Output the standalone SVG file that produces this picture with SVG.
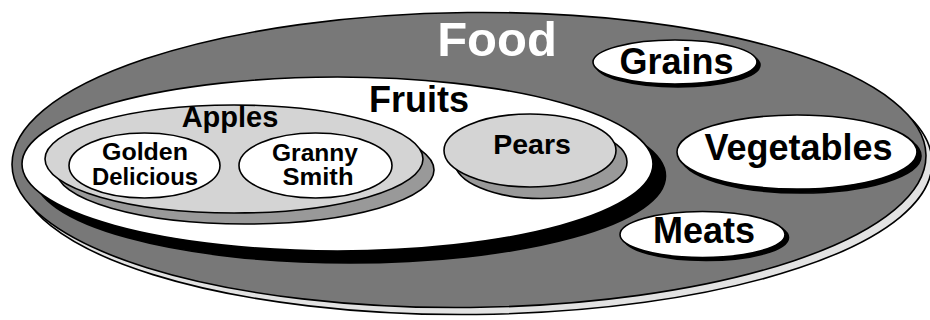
<svg xmlns="http://www.w3.org/2000/svg" width="930" height="320" viewBox="0 0 930 320">
<style>
  .outline { stroke: #000; stroke-width: 1.6; }
  .food { fill: #787878; }
  .foodshadow { fill: #e2e2e2; }
  .white { fill: #fff; }
  .light { fill: #d4d4d4; }
  .midshadow { fill: #999; }
  .black { fill: #000; }
  text { font-family: "Liberation Sans", Arial, Helvetica, sans-serif; font-weight: bold; text-anchor: middle; }
  .dark { fill: #000; }
  .lighttext { fill: #fff; }
</style>
<rect width="930" height="320" fill="#fff"/>
<g id="food">
  <g transform="rotate(-0.6 469 160)">
    <ellipse class="foodshadow outline" cx="475" cy="167" rx="457" ry="147.5"/>
    <ellipse class="food outline" cx="469" cy="160" rx="457" ry="147.5"/>
  </g>
  <text class="lighttext" x="497" y="56" font-size="49">Food</text>
</g>
<g id="fruits">
  <ellipse class="black outline" cx="350" cy="176" rx="315.5" ry="87"/>
  <ellipse class="white outline" cx="337.5" cy="164" rx="315.5" ry="87"/>
  <text class="dark" x="419" y="112" font-size="36">Fruits</text>
</g>
<g id="apples">
  <ellipse class="midshadow outline" cx="245" cy="170" rx="189" ry="54"/>
  <ellipse class="light outline" cx="234" cy="159" rx="189" ry="54"/>
  <text class="dark" x="230" y="127" font-size="29">Apples</text>
</g>
<g id="golden-delicious">
  <ellipse class="white outline" cx="144.5" cy="165.5" rx="75.5" ry="32.5"/>
  <text class="dark" x="145" y="160" font-size="23.5" textLength="86" lengthAdjust="spacingAndGlyphs">Golden</text>
  <text class="dark" x="145" y="185" font-size="23.5" textLength="106" lengthAdjust="spacingAndGlyphs">Delicious</text>
</g>
<g id="granny-smith">
  <ellipse class="white outline" cx="315.5" cy="165.5" rx="76.5" ry="32.5"/>
  <text class="dark" x="315" y="161" font-size="23.5" textLength="86" lengthAdjust="spacingAndGlyphs">Granny</text>
  <text class="dark" x="318" y="185" font-size="23.5" textLength="71" lengthAdjust="spacingAndGlyphs">Smith</text>
</g>
<g id="pears">
  <ellipse class="midshadow outline" cx="541" cy="162" rx="86" ry="36.5"/>
  <ellipse class="light outline" cx="530" cy="150.5" rx="86" ry="36.5"/>
  <text class="dark" x="532" y="154" font-size="28.5">Pears</text>
</g>
<g id="grains">
  <ellipse class="black outline" cx="678" cy="65" rx="82" ry="22"/>
  <ellipse class="white outline" cx="675" cy="62" rx="82" ry="22"/>
  <text class="dark" x="676.5" y="74" font-size="36">Grains</text>
</g>
<g id="vegetables">
  <ellipse class="black outline" cx="801" cy="156" rx="120" ry="37"/>
  <ellipse class="white outline" cx="797" cy="152" rx="120" ry="37"/>
  <text class="dark" x="798.5" y="160" font-size="36">Vegetables</text>
</g>
<g id="meats">
  <ellipse class="black outline" cx="706" cy="237.5" rx="82.5" ry="23"/>
  <ellipse class="white outline" cx="702.5" cy="234.5" rx="82.5" ry="23"/>
  <text class="dark" x="704" y="243" font-size="36">Meats</text>
</g>
<g id="connectors"></g>
</svg>
